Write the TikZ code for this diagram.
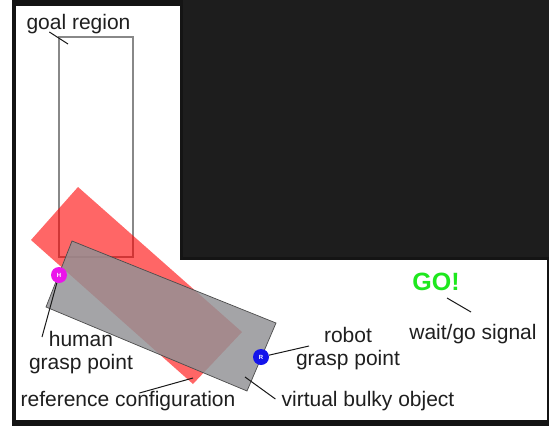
\documentclass[tikz,border=0pt]{standalone}
\usepackage{fontspec}
\setmainfont{Liberation Sans}
\usepackage{xcolor}
\usetikzlibrary{positioning}
\definecolor{wallgray}{RGB}{29,29,29}
\definecolor{refred}{RGB}{255,0,0}
\definecolor{objgray}{RGB}{146,146,150}
\definecolor{goalgray}{RGB}{136,136,136}
\definecolor{gogreen}{RGB}{30,232,30}
\definecolor{humanmag}{RGB}{235,20,235}
\definecolor{robotblue}{RGB}{20,20,235}
\tikzset{%
  note/.style     = {inner sep = 0pt, text = black!88, align = center,
    font = \fontsize{21}{23}\selectfont}, % Text labels
  pointer/.style  = {draw = black!90, line width = 1pt}, % Label leader
  grasp/.style    = {circle, inner sep = 0pt, minimum size = 16pt,
    text = white, font = \fontsize{6}{6}\selectfont\bfseries}, % Grasp point
  goal/.style     = {draw = goalgray, line width = 1.6pt}, % Goal region
  body/.style     = {draw = black!70, line width = 0.7pt, fill = objgray,
    fill opacity = 0.83} % Bulky object
}

\begin{document}
\begin{tikzpicture}[x=1pt, y=-1pt]
        \useasboundingbox (0,0) rectangle (549,426);
        % workspace and wall
        \fill[black!92] (12,0) rectangle (549,426);
        \fill[white] (16,6) rectangle (547,420);
        \fill[black!92] (180,0) rectangle (549,260);
        \fill[wallgray] (183,0) rectangle (549,257);
        % goal, reference and object
        \draw[goal] (59,37) rectangle (133,257);
        \fill[refred, fill opacity=0.6] (78,187) -- (242,332) -- (193,384) -- (31,240) -- cycle;
        \draw[body] (72,241) -- (276,323) -- (247,391) -- (46,307) -- cycle;
        \node[grasp, fill=humanmag] (humanGrasp) at (59,275) {H};
        \node[grasp, fill=robotblue] (robotGrasp) at (261,357) {R};
        % labels
        \node[note] (goalText) at (78.5,24) {goal region};
        \node[note] (humanText) at (81,353) {human\\grasp point};
        \node[note] (refText) at (128,401) {reference configuration};
        \node[note] (robotText) at (348,349) {robot\\grasp point};
        \node[note] (objText) at (368,401) {virtual bulky object};
        \node[note, text=gogreen, font=\fontsize{25}{27}\selectfont\bfseries] (goText) at (436,282) {GO!};
        \node[note] (signalText) at (473,334) {wait/go signal};
        % leader ends
        \coordinate (goalTip) at (68,44);
        \coordinate (humanTip) at (42,337);
        \coordinate (refTip) at (193,378);
        \coordinate (robotTip) at (309,346);
        \coordinate (objTip) at (245,377);
        \coordinate (goTip) at (447,298);
        \draw[pointer] ([xshift=23pt, yshift=2pt]goalText.south west) -- (goalTip);
        \draw[pointer] (humanGrasp) -- (humanTip);
        \draw[pointer] ([xshift=119pt, yshift=-2pt]refText.north west) -- (refTip);
        \draw[pointer] (robotGrasp) -- (robotTip);
        \draw[pointer] ([xshift=-6pt, yshift=2pt]objText.west) -- (objTip);
        \draw[pointer] (goTip) -- ([xshift=-2pt, yshift=12pt]signalText.north);
\end{tikzpicture}
\end{document}
